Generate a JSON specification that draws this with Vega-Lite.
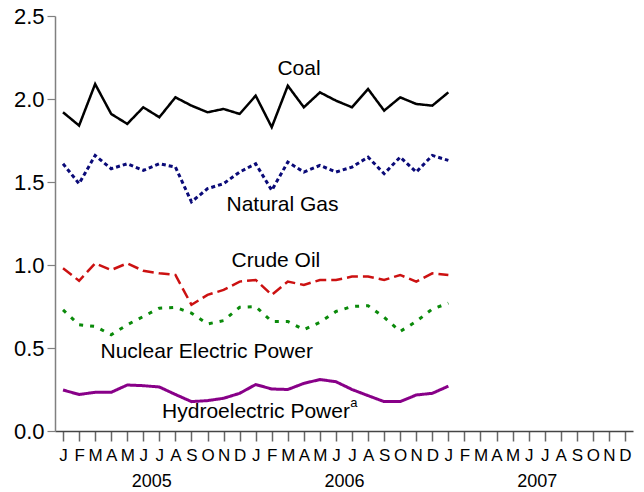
{
  "$schema": "https://vega.github.io/schema/vega-lite/v6.json",
  "width": 578,
  "height": 415,
  "autosize": {"type": "none"},
  "padding": {"left": 55, "top": 16, "right": 11, "bottom": 61},
  "background": "white",
  "config": {"view": {"stroke": null}, "font": "Liberation Sans"},
  "datasets": {
    "lines": [
      {"series": "Coal", "m": 0, "v": 1.92}, {"series": "Coal", "m": 1, "v": 1.84}, {"series": "Coal", "m": 2, "v": 2.09}, {"series": "Coal", "m": 3, "v": 1.91}, {"series": "Coal", "m": 4, "v": 1.85},
      {"series": "Coal", "m": 5, "v": 1.95}, {"series": "Coal", "m": 6, "v": 1.89}, {"series": "Coal", "m": 7, "v": 2.01}, {"series": "Coal", "m": 8, "v": 1.96}, {"series": "Coal", "m": 9, "v": 1.92},
      {"series": "Coal", "m": 10, "v": 1.94}, {"series": "Coal", "m": 11, "v": 1.91}, {"series": "Coal", "m": 12, "v": 2.02}, {"series": "Coal", "m": 13, "v": 1.83}, {"series": "Coal", "m": 14, "v": 2.08},
      {"series": "Coal", "m": 15, "v": 1.95}, {"series": "Coal", "m": 16, "v": 2.04}, {"series": "Coal", "m": 17, "v": 1.99}, {"series": "Coal", "m": 18, "v": 1.95}, {"series": "Coal", "m": 19, "v": 2.06},
      {"series": "Coal", "m": 20, "v": 1.93}, {"series": "Coal", "m": 21, "v": 2.01}, {"series": "Coal", "m": 22, "v": 1.97}, {"series": "Coal", "m": 23, "v": 1.96}, {"series": "Coal", "m": 24, "v": 2.04},
      {"series": "Natural Gas", "m": 0, "v": 1.61}, {"series": "Natural Gas", "m": 1, "v": 1.49}, {"series": "Natural Gas", "m": 2, "v": 1.66}, {"series": "Natural Gas", "m": 3, "v": 1.58}, {"series": "Natural Gas", "m": 4, "v": 1.61},
      {"series": "Natural Gas", "m": 5, "v": 1.57}, {"series": "Natural Gas", "m": 6, "v": 1.61}, {"series": "Natural Gas", "m": 7, "v": 1.59}, {"series": "Natural Gas", "m": 8, "v": 1.38}, {"series": "Natural Gas", "m": 9, "v": 1.46},
      {"series": "Natural Gas", "m": 10, "v": 1.49}, {"series": "Natural Gas", "m": 11, "v": 1.56}, {"series": "Natural Gas", "m": 12, "v": 1.61}, {"series": "Natural Gas", "m": 13, "v": 1.45}, {"series": "Natural Gas", "m": 14, "v": 1.62},
      {"series": "Natural Gas", "m": 15, "v": 1.56}, {"series": "Natural Gas", "m": 16, "v": 1.6}, {"series": "Natural Gas", "m": 17, "v": 1.56}, {"series": "Natural Gas", "m": 18, "v": 1.59}, {"series": "Natural Gas", "m": 19, "v": 1.65},
      {"series": "Natural Gas", "m": 20, "v": 1.55}, {"series": "Natural Gas", "m": 21, "v": 1.65}, {"series": "Natural Gas", "m": 22, "v": 1.56}, {"series": "Natural Gas", "m": 23, "v": 1.66}, {"series": "Natural Gas", "m": 24, "v": 1.63},
      {"series": "Crude Oil", "m": 0, "v": 0.98}, {"series": "Crude Oil", "m": 1, "v": 0.905}, {"series": "Crude Oil", "m": 2, "v": 1.01}, {"series": "Crude Oil", "m": 3, "v": 0.97}, {"series": "Crude Oil", "m": 4, "v": 1.01},
      {"series": "Crude Oil", "m": 5, "v": 0.965}, {"series": "Crude Oil", "m": 6, "v": 0.95}, {"series": "Crude Oil", "m": 7, "v": 0.94}, {"series": "Crude Oil", "m": 8, "v": 0.76}, {"series": "Crude Oil", "m": 9, "v": 0.82},
      {"series": "Crude Oil", "m": 10, "v": 0.85}, {"series": "Crude Oil", "m": 11, "v": 0.9}, {"series": "Crude Oil", "m": 12, "v": 0.91}, {"series": "Crude Oil", "m": 13, "v": 0.82}, {"series": "Crude Oil", "m": 14, "v": 0.9},
      {"series": "Crude Oil", "m": 15, "v": 0.88}, {"series": "Crude Oil", "m": 16, "v": 0.91}, {"series": "Crude Oil", "m": 17, "v": 0.91}, {"series": "Crude Oil", "m": 18, "v": 0.93}, {"series": "Crude Oil", "m": 19, "v": 0.93},
      {"series": "Crude Oil", "m": 20, "v": 0.91}, {"series": "Crude Oil", "m": 21, "v": 0.94}, {"series": "Crude Oil", "m": 22, "v": 0.9}, {"series": "Crude Oil", "m": 23, "v": 0.95}, {"series": "Crude Oil", "m": 24, "v": 0.94},
      {"series": "Nuclear", "m": 0, "v": 0.73}, {"series": "Nuclear", "m": 1, "v": 0.64}, {"series": "Nuclear", "m": 2, "v": 0.63}, {"series": "Nuclear", "m": 3, "v": 0.58}, {"series": "Nuclear", "m": 4, "v": 0.64},
      {"series": "Nuclear", "m": 5, "v": 0.69}, {"series": "Nuclear", "m": 6, "v": 0.74}, {"series": "Nuclear", "m": 7, "v": 0.745}, {"series": "Nuclear", "m": 8, "v": 0.71}, {"series": "Nuclear", "m": 9, "v": 0.645},
      {"series": "Nuclear", "m": 10, "v": 0.665}, {"series": "Nuclear", "m": 11, "v": 0.745}, {"series": "Nuclear", "m": 12, "v": 0.75}, {"series": "Nuclear", "m": 13, "v": 0.66}, {"series": "Nuclear", "m": 14, "v": 0.66},
      {"series": "Nuclear", "m": 15, "v": 0.61}, {"series": "Nuclear", "m": 16, "v": 0.655}, {"series": "Nuclear", "m": 17, "v": 0.72}, {"series": "Nuclear", "m": 18, "v": 0.75}, {"series": "Nuclear", "m": 19, "v": 0.755},
      {"series": "Nuclear", "m": 20, "v": 0.685}, {"series": "Nuclear", "m": 21, "v": 0.6}, {"series": "Nuclear", "m": 22, "v": 0.66}, {"series": "Nuclear", "m": 23, "v": 0.735}, {"series": "Nuclear", "m": 24, "v": 0.77},
      {"series": "Hydro", "m": 0, "v": 0.247}, {"series": "Hydro", "m": 1, "v": 0.22}, {"series": "Hydro", "m": 2, "v": 0.233}, {"series": "Hydro", "m": 3, "v": 0.233}, {"series": "Hydro", "m": 4, "v": 0.277},
      {"series": "Hydro", "m": 5, "v": 0.273}, {"series": "Hydro", "m": 6, "v": 0.265}, {"series": "Hydro", "m": 7, "v": 0.22}, {"series": "Hydro", "m": 8, "v": 0.177}, {"series": "Hydro", "m": 9, "v": 0.183},
      {"series": "Hydro", "m": 10, "v": 0.197}, {"series": "Hydro", "m": 11, "v": 0.227}, {"series": "Hydro", "m": 12, "v": 0.28}, {"series": "Hydro", "m": 13, "v": 0.253}, {"series": "Hydro", "m": 14, "v": 0.25},
      {"series": "Hydro", "m": 15, "v": 0.287}, {"series": "Hydro", "m": 16, "v": 0.31}, {"series": "Hydro", "m": 17, "v": 0.297}, {"series": "Hydro", "m": 18, "v": 0.25}, {"series": "Hydro", "m": 19, "v": 0.213},
      {"series": "Hydro", "m": 20, "v": 0.177}, {"series": "Hydro", "m": 21, "v": 0.177}, {"series": "Hydro", "m": 22, "v": 0.217}, {"series": "Hydro", "m": 23, "v": 0.227}, {"series": "Hydro", "m": 24, "v": 0.27}
    ],
    "labels": [
      {"label": "Coal", "m": 14.7, "v": 2.178},
      {"label": "Natural Gas", "m": 13.67, "v": 1.364},
      {"label": "Crude Oil", "m": 13.26, "v": 1.025},
      {"label": "Nuclear Electric Power", "m": 8.95, "v": 0.473},
      {"label": "Hydroelectric Power", "m": 12.02, "v": 0.115}
    ],
    "sup": [
      {"label": "a", "m": 18.12, "v": 0.17}
    ]
  },
  "layer": [
    {
      "data": {"name": "lines"},
      "mark": {"type": "line", "clip": false},
      "encoding": {
        "x": {
          "field": "m", "type": "quantitative",
          "scale": {"domain": [-0.5, 35.5], "nice": false, "zero": false},
          "axis": {
            "orient": "bottom", "title": null, "grid": false,
            "values": [0,1,2,3,4,5,6,7,8,9,10,11,12,13,14,15,16,17,18,19,20,21,22,23,24,25,26,27,28,29,30,31,32,33,34,35],
            "labelExpr": "substring('JFMAMJJASOND', datum.value % 12, datum.value % 12 + 1)",
            "domainColor": "#444444", "domainWidth": 1.5,
            "tickColor": "#666666", "tickSize": 10, "tickWidth": 1.5,
            "labelFontSize": 17, "labelColor": "#000000", "labelPadding": 6,
            "labelFont": "Liberation Sans", "labelFlush": false, "labelOverlap": false
          }
        },
        "y": {
          "field": "v", "type": "quantitative",
          "scale": {"domain": [0, 2.5], "nice": false},
          "axis": {
            "title": null, "grid": false,
            "values": [0, 0.5, 1, 1.5, 2, 2.5], "format": ".1f",
            "domainColor": "#808080", "domainWidth": 1.5,
            "tickColor": "#808080", "tickSize": 8, "tickWidth": 1.2,
            "labelFontSize": 22, "labelColor": "#000000", "labelPadding": 3,
            "labelFont": "Liberation Sans", "labelFlush": false
          }
        },
        "detail": {"field": "series"},
        "color": {
          "field": "series", "type": "nominal", "legend": null,
          "scale": {"domain": ["Coal", "Natural Gas", "Crude Oil", "Nuclear", "Hydro"], "range": ["#000000", "#0a0a78", "#cc1111", "#0a8a0a", "#880088"]}
        },
        "strokeDash": {
          "field": "series", "type": "nominal", "legend": null,
          "scale": {"domain": ["Coal", "Natural Gas", "Crude Oil", "Nuclear", "Hydro"], "range": [[1, 0], [4, 3], [11, 5], [4, 7], [1, 0]]}
        },
        "size": {
          "field": "series", "type": "nominal", "legend": null,
          "scale": {"type": "ordinal", "domain": ["Coal", "Natural Gas", "Crude Oil", "Nuclear", "Hydro"], "range": [2.5, 3, 2.5, 3, 3]}
        }
      }
    },
    {
      "data": {"name": "labels"},
      "mark": {"type": "text", "fontSize": 21, "font": "Liberation Sans", "color": "#000000", "align": "center", "baseline": "middle"},
      "encoding": {
        "x": {
          "field": "m", "type": "quantitative",
          "scale": {"domain": [-0.5, 35.5], "nice": false, "zero": false},
          "axis": {
            "orient": "bottom", "title": null, "grid": false, "domain": false, "ticks": false,
            "values": [5.5, 17.5, 29.5],
            "labelExpr": "datum.value < 12 ? '2005' : datum.value < 24 ? '2006' : '2007'",
            "labelFontSize": 18, "labelColor": "#000000", "labelPadding": 41,
            "labelFont": "Liberation Sans", "labelFlush": false
          }
        },
        "y": {"field": "v", "type": "quantitative", "scale": {"domain": [0, 2.5], "nice": false}},
        "text": {"field": "label"}
      }
    },
    {
      "data": {"name": "sup"},
      "mark": {"type": "text", "fontSize": 13, "font": "Liberation Sans", "color": "#000000", "align": "center", "baseline": "middle"},
      "encoding": {
        "x": {"field": "m", "type": "quantitative", "scale": {"domain": [-0.5, 35.5], "nice": false, "zero": false}, "axis": null},
        "y": {"field": "v", "type": "quantitative", "scale": {"domain": [0, 2.5], "nice": false}},
        "text": {"field": "label"}
      }
    }
  ],
  "resolve": {"axis": {"x": "independent"}}
}
